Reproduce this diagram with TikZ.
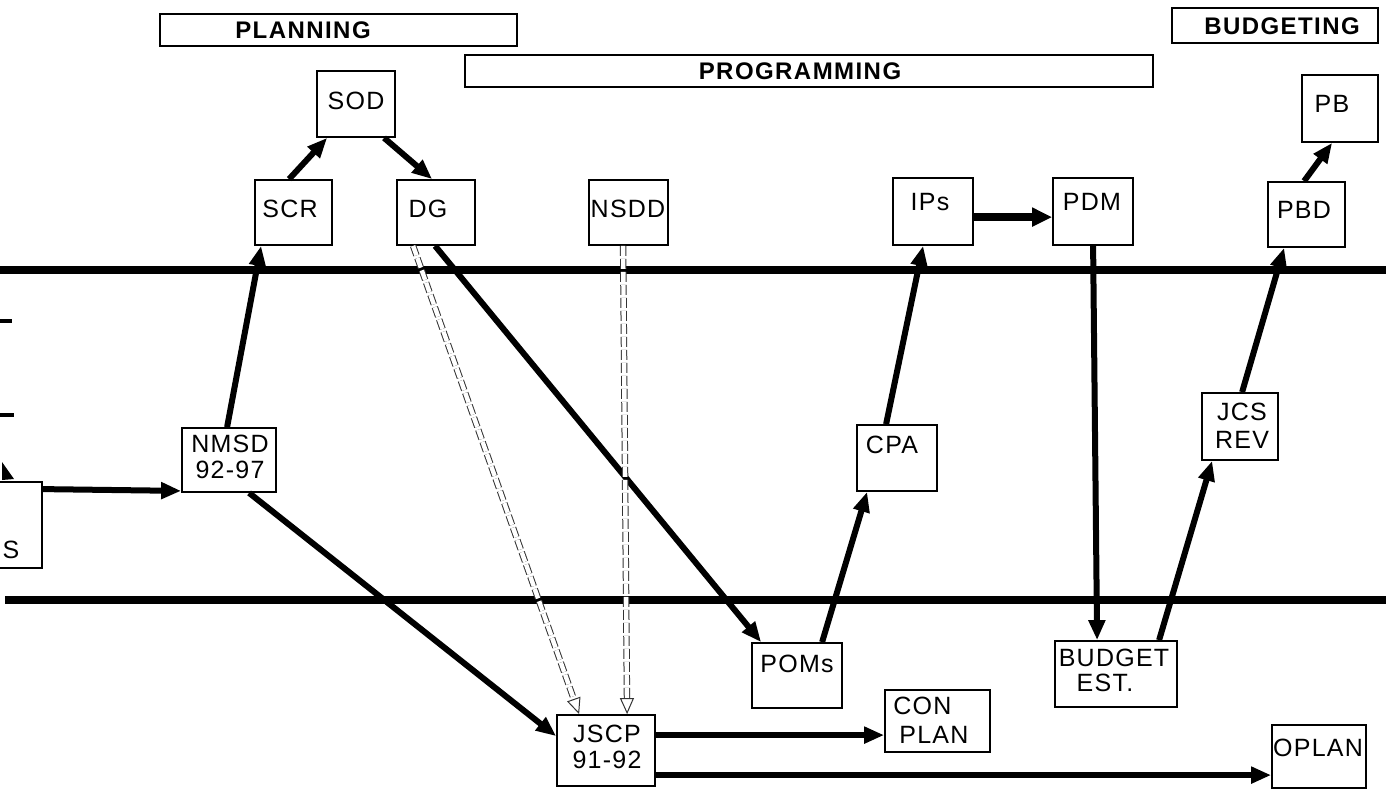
\documentclass[tikz,border=0pt]{standalone}
\usepackage{fontspec}
\setmainfont{Liberation Sans}
\usetikzlibrary{arrows.meta,fit,calc}

\begin{document}
\begin{tikzpicture}[x=0.5pt,y=-0.5pt,
  box/.style={draw, line width=0.9pt, inner sep=0pt},
  lbl/.style={font=\fontsize{12.5}{14}\selectfont\addfontfeature{LetterSpace=5}, inner sep=0pt, align=center},
  ban/.style={font=\fontsize{12}{14}\selectfont\bfseries\addfontfeature{LetterSpace=6}, inner sep=0pt},
  sepline/.style={line width=4pt},
  flow/.style={line width=3pt, -{Triangle[length=10pt,width=8pt]}},
  wideflow/.style={line width=4pt, -{Triangle[length=10pt,width=9pt]}},
  guide/.style={draw=black!80, line width=0.5pt, double=white, double distance=2.2pt,
    dash pattern=on 5pt off 1.5pt, -{Triangle[open,length=8pt,width=7pt]}}]

\useasboundingbox (0,0) rectangle (1386,792);
\clip (0,0) rectangle (1386,792);

% phase banners
\node[box, fit={(160,14)(517,46)}] (planning) {};
\node[ban] (t-planning) at (303,30) {PLANNING};
\node[box, fit={(465,55)(1153,87)}] (programming) {};
\node[ban] (t-programming) at (800,71) {PROGRAMMING};
\node[box, fit={(1172,8)(1378,43)}] (budgeting) {};
\node[ban] (t-budgeting) at (1282,26) {BUDGETING};

% horizontal band separators
\coordinate (s1a) at (0,270);   \coordinate (s1b) at (1386,270);
\coordinate (s2a) at (5,600);   \coordinate (s2b) at (1386,600);
\draw[sepline] (s1a) -- (s1b);
\draw[sepline] (s2a) -- (s2b);

% short marks at the left edge
\coordinate (m1a) at (0,321); \coordinate (m1b) at (12,321);
\coordinate (m2a) at (0,415); \coordinate (m2b) at (14,415);
\draw[line width=2pt] (m1a) -- (m1b);
\draw[line width=2pt] (m2a) -- (m2b);

% document boxes
\node[box, fit={(-40,482)(42,568)}] (lft) {};
\node[lbl] (t-lft) at (11,550) {S};
\fill (2,462) -- (14,479) -- (2,480) -- cycle;

\node[box, fit={(182,428)(276,492)}] (nmsd) {};
\node[lbl] (t-nmsd1) at (230,444) {NMSD};
\node[lbl] (t-nmsd2) at (230,470) {92-97};

\node[box, fit={(317,71)(395,137)}] (sod) {};
\node[lbl] (t-sod) at (356,101) {SOD};
\node[box, fit={(255,180)(332,245)}] (scr) {};
\node[lbl] (t-scr) at (290,209) {SCR};
\node[box, fit={(397,180)(475,245)}] (dg) {};
\node[lbl] (t-dg) at (428,209) {DG};
\node[box, fit={(589,180)(668,245)}] (nsdd) {};
\node[lbl] (t-nsdd) at (628,209) {NSDD};
\node[box, fit={(893,178)(973,245)}] (ips) {};
\node[lbl] (t-ips) at (930,202) {IPs};
\node[box, fit={(1053,178)(1133,245)}] (pdm) {};
\node[lbl] (t-pdm) at (1092,202) {PDM};
\node[box, fit={(1268,182)(1345,247)}] (pbd) {};
\node[lbl] (t-pbd) at (1304,210) {PBD};
\node[box, fit={(1302,75)(1378,142)}] (pb) {};
\node[lbl] (t-pb) at (1332,104) {PB};
\node[box, fit={(857,425)(937,491)}] (cpa) {};
\node[lbl] (t-cpa) at (892,445) {CPA};
\node[box, fit={(1202,393)(1278,460)}] (jcs) {};
\node[lbl] (t-jcs1) at (1242,412) {JCS};
\node[lbl] (t-jcs2) at (1242,440) {REV};
\node[box, fit={(752,643)(842,708)}] (poms) {};
\node[lbl] (t-poms) at (797,664) {POMs};
\node[box, fit={(557,715)(655,786)}] (jscp) {};
\node[lbl] (t-jscp1) at (607,734) {JSCP};
\node[lbl] (t-jscp2) at (607,760) {91-92};
\node[box, fit={(885,690)(990,752)}] (con) {};
\node[lbl, anchor=west] (t-con1) at (893,706) {CON};
\node[lbl, anchor=west] (t-con2) at (899,735) {PLAN};
\node[box, fit={(1055,641)(1177,707)}] (bud) {};
\node[lbl] (t-bud1) at (1114,658) {BUDGET};
\node[lbl] (t-bud2) at (1105,683) {EST.};
\node[box, fit={(1272,725)(1366,788)}] (oplan) {};
\node[lbl] (t-oplan) at (1318,748) {OPLAN};

% flows
\draw[flow] ($(lft.north east)+(0,8)$) -- ($(nmsd.south west)+(0,-2)$);
\draw[flow] ($(nmsd.north west)+(46,0)$) -- ($(scr.south west)+(7,0)$);
\draw[flow] ($(scr.north west)+(35,0)$) -- ($(sod.south west)+(11,0)$);
\draw[flow] ($(sod.south west)+(68,0)$) -- ($(dg.north west)+(36,0)$);
\draw[flow] ($(nmsd.south west)+(68,0)$) -- ($(jscp.north west)+(0,22)$);
\draw[flow] ($(dg.south west)+(39,0)$) -- ($(poms.north west)+(10,0)$);
\draw[flow] ($(poms.north west)+(71,0)$) -- ($(cpa.south west)+(11,0)$);
\draw[flow] ($(cpa.north west)+(30,0)$) -- ($(ips.south west)+(31,0)$);
\draw[wideflow] ($(ips.north east)+(0,40)$) -- ($(pdm.north west)+(0,40)$);
\draw[flow] ($(pdm.south west)+(41,0)$) -- ($(bud.north west)+(43,0)$);
\draw[flow] ($(bud.north west)+(105,0)$) -- ($(jcs.south west)+(11,0)$);
\draw[flow] ($(jcs.north west)+(41,0)$) -- ($(pbd.south west)+(17,0)$);
\draw[flow] ($(pbd.north west)+(37,0)$) -- ($(pb.south west)+(31,0)$);
\draw[flow] ($(jscp.north east)+(0,21)$) -- ($(con.north west)+(0,46)$);
\draw[flow] ($(jscp.north east)+(0,61)$) -- ($(oplan.north west)+(0,51)$);

% guidance links
\draw[guide] ($(dg.south west)+(17,0)$) -- ($(jscp.north west)+(23,0)$);
\draw[guide] ($(nsdd.south west)+(35,0)$) -- ($(jscp.north west)+(71,0)$);
\end{tikzpicture}
\end{document}
